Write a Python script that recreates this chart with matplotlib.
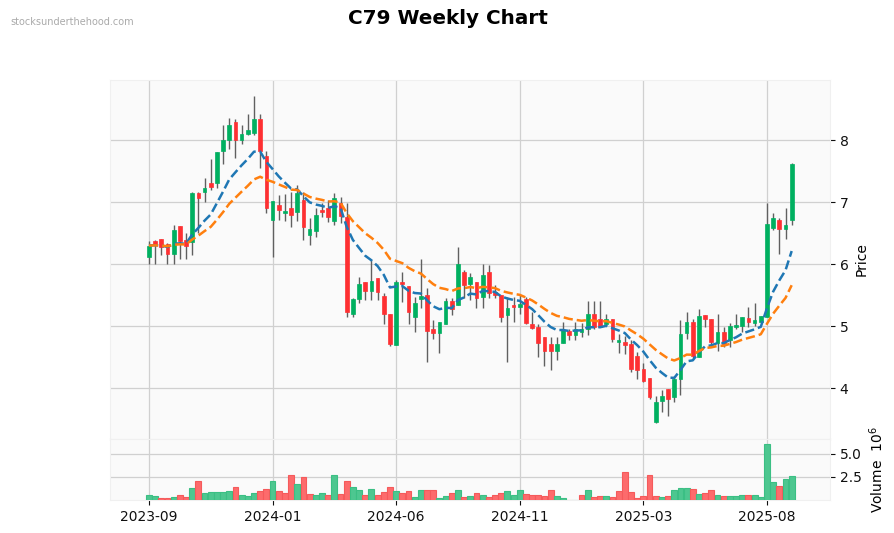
import matplotlib
matplotlib.use('Agg')
import matplotlib.pyplot as plt
import numpy as np
import pandas as pd

# weekly OHLC (index 0 = first week of 2023-09)
opens = [6.12, 6.37, 6.40, 6.32, 6.17, 6.61, 6.39, 6.35, 7.15, 7.16,
         7.31, 7.31, 7.82, 8.00, 8.30, 8.00, 8.10, 8.12, 8.34, 7.74,
         6.72, 6.96, 6.83, 6.91, 6.84, 7.03, 6.47, 6.54, 6.87, 6.91,
         6.70, 6.98, 6.76, 5.20, 5.44, 5.72, 5.57, 5.78, 5.48, 5.19,
         4.69, 5.71, 5.65, 5.15, 5.43, 5.50, 4.95, 4.89, 5.04, 5.40,
         5.34, 5.87, 5.68, 5.72, 5.47, 5.87, 5.55, 5.51, 5.18, 5.34,
         5.31, 5.44, 5.03, 4.98, 4.82, 4.71, 4.60, 4.73, 4.92, 4.85,
         4.91, 4.95, 5.20, 5.11, 5.04, 5.12, 4.75, 4.74, 4.71, 4.52,
         4.31, 4.17, 3.45, 3.80, 3.98, 3.85, 4.14, 4.89, 5.07, 4.50,
         5.18, 5.12, 4.73, 4.90, 4.77, 4.99, 5.00, 5.13, 5.05, 5.06,
         5.14, 6.59, 6.71, 6.56, 6.72]
highs = [6.37, 6.39, 6.41, 6.34, 6.63, 6.62, 6.50, 7.17, 7.16, 7.39,
         7.69, 7.81, 8.25, 8.35, 8.34, 8.25, 8.42, 8.72, 8.42, 7.82,
         7.02, 7.12, 7.13, 7.17, 7.27, 7.17, 6.74, 6.90, 6.98, 7.03,
         7.14, 7.09, 6.98, 5.45, 5.80, 5.72, 6.06, 5.78, 5.54, 5.19,
         5.74, 5.88, 5.65, 5.47, 6.09, 5.61, 5.10, 5.07, 5.45, 5.45,
         6.28, 5.90, 5.86, 5.72, 6.00, 5.98, 5.66, 5.51, 5.47, 5.47,
         5.50, 5.47, 5.23, 5.04, 4.82, 4.82, 4.82, 5.06, 4.96, 5.06,
         5.05, 5.40, 5.40, 5.40, 5.20, 5.12, 4.88, 4.84, 4.77, 4.59,
         4.40, 4.17, 3.87, 3.97, 3.98, 4.19, 5.10, 5.23, 5.11, 5.27,
         5.18, 5.12, 5.20, 4.99, 5.05, 5.19, 5.15, 5.31, 5.37, 5.17,
         6.99, 6.83, 6.75, 6.90, 7.63]
lows = [6.01, 6.01, 6.15, 6.00, 6.00, 6.09, 6.08, 6.15, 6.50, 7.01,
        7.20, 7.23, 7.61, 7.85, 7.71, 7.93, 8.09, 8.09, 7.55, 6.82,
        6.12, 6.72, 6.69, 6.60, 6.70, 6.39, 6.31, 6.43, 6.76, 6.68,
        6.63, 6.66, 5.15, 5.15, 5.37, 5.42, 5.42, 5.42, 5.03, 4.68,
        4.69, 5.39, 5.03, 4.90, 5.29, 4.42, 4.80, 4.56, 5.04, 5.18,
        5.34, 5.45, 5.42, 5.30, 5.30, 5.45, 5.45, 5.07, 4.42, 5.07,
        5.20, 5.04, 4.96, 4.50, 4.35, 4.30, 4.45, 4.73, 4.77, 4.77,
        4.83, 4.85, 4.95, 4.98, 5.00, 4.75, 4.57, 4.55, 4.26, 4.14,
        4.10, 3.83, 3.43, 3.62, 3.55, 3.78, 3.89, 4.80, 4.49, 4.50,
        4.99, 4.68, 4.60, 4.66, 4.67, 4.96, 4.91, 4.99, 5.00, 5.06,
        5.14, 6.55, 6.16, 6.40, 6.63]
closes = [6.30, 6.33, 6.28, 6.17, 6.55, 6.38, 6.30, 7.15, 7.06, 7.23,
          7.25, 7.81, 8.01, 8.25, 8.00, 8.10, 8.16, 8.34, 7.82, 6.90,
          7.02, 6.88, 6.86, 6.79, 7.14, 6.60, 6.56, 6.80, 6.84, 6.76,
          7.06, 6.78, 5.23, 5.44, 5.68, 5.57, 5.73, 5.55, 5.19, 4.71,
          5.71, 5.68, 5.23, 5.37, 5.49, 4.92, 4.89, 5.06, 5.40, 5.27,
          6.00, 5.66, 5.80, 5.45, 5.83, 5.54, 5.50, 5.15, 5.30, 5.31,
          5.35, 5.05, 4.97, 4.73, 4.60, 4.60, 4.72, 4.94, 4.85, 4.96,
          4.95, 5.20, 4.99, 4.98, 5.11, 4.79, 4.77, 4.70, 4.31, 4.29,
          4.12, 3.85, 3.77, 3.87, 3.83, 4.14, 4.87, 5.06, 4.52, 5.16,
          5.12, 4.75, 4.90, 4.72, 5.00, 5.02, 5.15, 5.07, 5.10, 5.17,
          6.65, 6.75, 6.56, 6.63, 7.61]
# volume in millions
volumes = [0.58, 0.47, 0.25, 0.25, 0.36, 0.58, 0.36, 1.34, 2.10, 0.80,
           0.91, 0.91, 0.91, 1.01, 1.45, 0.58, 0.47, 0.80, 1.01, 1.23,
           2.10, 1.01, 0.80, 2.75, 1.78, 2.54, 0.69, 0.58, 0.80, 0.58,
           2.75, 0.69, 2.10, 1.45, 1.12, 0.58, 1.23, 0.58, 0.91, 1.45,
           1.01, 0.80, 1.01, 0.36, 1.12, 1.12, 1.12, 0.25, 0.47, 0.80,
           1.12, 0.36, 0.47, 0.80, 0.58, 0.36, 0.58, 0.80, 1.01, 0.58,
           1.12, 0.69, 0.58, 0.58, 0.47, 1.12, 0.47, 0.22, 0.03, 0.03,
           0.58, 1.12, 0.36, 0.47, 0.47, 0.36, 1.01, 3.08, 0.91, 0.25,
           0.47, 2.75, 0.47, 0.36, 0.47, 1.12, 1.34, 1.34, 1.23, 0.69,
           0.80, 1.12, 0.58, 0.47, 0.47, 0.47, 0.58, 0.58, 0.58, 0.36,
           6.01, 1.99, 1.56, 2.32, 2.64]

tick_pos = [0, 20, 40, 60, 80, 100]
tick_labels = ['2023-09', '2024-01', '2024-06', '2024-11', '2025-03', '2025-08']

o = np.array(opens)
h = np.array(highs)
l = np.array(lows)
c = np.array(closes)
v = np.array(volumes)
x = np.arange(len(c))

ema10 = pd.Series(c).ewm(span=10, adjust=False).mean()
ema20 = pd.Series(c).ewm(span=20, adjust=False).mean()

up, down = '#00b060', '#fe3032'
cols = np.where(c >= o, up, down)
prev = np.concatenate([[o[0]], c[:-1]])
vcols = np.where(c > prev, '#4dc790', '#fd6b6c')
vedge = np.where(c > prev, '#3bbf84', '#f55a5b')

fig = plt.figure(figsize=(8.95, 5.33), dpi=100)
ax = fig.add_axes([110/895, (533-439)/533, 720/895, 359/533])
axv = fig.add_axes([110/895, (533-500)/533, 720/895, 61/533], sharex=ax)

for a in (ax, axv):
    a.set_facecolor('#fafafa')
    a.grid(True, color='#d0d0d0', lw=0.9)
    a.set_axisbelow(True)
    for s in a.spines.values():
        s.set_color('#f0f0f0')
    a.yaxis.tick_right()
    a.yaxis.set_label_position('right')
    a.tick_params(colors='#101010', labelsize=10)

# candles
ax.vlines(x, l, h, color='#606060', lw=1, zorder=2)
body = np.maximum(np.abs(c - o), 0.02)
ax.bar(x, body, bottom=np.minimum(o, c), width=0.6, color=cols,
       edgecolor=cols, lw=0.5, zorder=3)

ax.plot(x, ema10, color='#1f77b4', lw=1.8, ls='--', zorder=4)
ax.plot(x, ema20, color='#ff7f0e', lw=1.8, ls='--', zorder=4)

ax.set_ylim(3.18, 8.97)
ax.set_yticks([4, 5, 6, 7, 8])
ax.set_ylabel('Price', fontsize=10)
ax.set_xlim(-6.3, 110.2)
ax.tick_params(axis='x', labelbottom=False, length=0)

axv.bar(x, v, width=0.95, color=vcols, edgecolor=vedge, lw=0.8, zorder=3)
axv.set_ylim(0, 6.6)
axv.set_yticks([2.5, 5.0])
axv.set_yticklabels(['2.5', '5.0'])
axv.set_ylabel('Volume  $10^{6}$', fontsize=10)
axv.set_xticks(tick_pos)
axv.set_xticklabels(tick_labels)

fig.suptitle('C79 Weekly Chart', fontsize=14.4, fontweight='bold', y=1-18/533, va='center')
fig.text(10/895, 1-22/533, 'stocksunderthehood.com', fontsize=7, color='#aaaaaa', va='center')

fig.savefig('out.png', dpi=100)
